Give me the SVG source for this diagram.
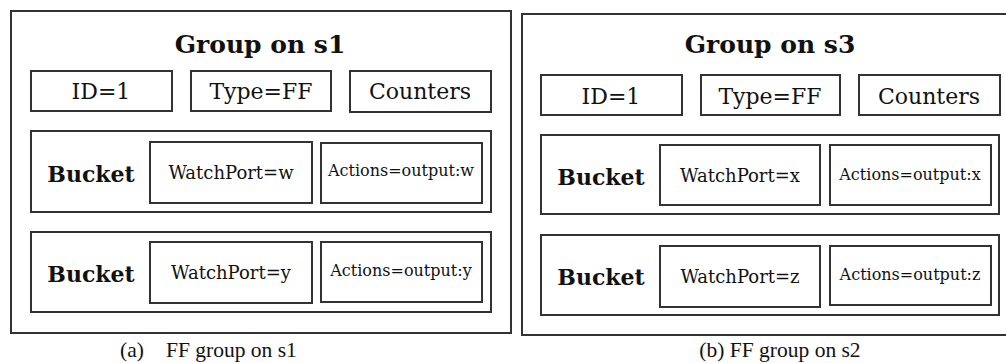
<svg xmlns="http://www.w3.org/2000/svg" width="1006" height="363" viewBox="0 0 1006 363">
<style>
.box{fill:#fff;stroke:#333;stroke-width:2}
.title{font-family:"DejaVu Serif","Liberation Serif",serif;font-weight:bold;font-size:25px;fill:#111;text-anchor:middle}
.field{font-family:"DejaVu Serif","Liberation Serif",serif;font-size:22px;fill:#111;text-anchor:middle}
.bucket{font-family:"DejaVu Serif","Liberation Serif",serif;font-weight:bold;font-size:22px;fill:#111;text-anchor:middle}
.watch{font-family:"DejaVu Serif","Liberation Serif",serif;font-size:18px;fill:#111;text-anchor:middle}
.act{font-family:"DejaVu Serif","Liberation Serif",serif;font-size:16px;fill:#111;text-anchor:middle}
.cap{font-family:"Liberation Serif",serif;font-size:21.5px;fill:#111}
</style>
<rect width="1006" height="363" fill="#fff"/>
<g id="group-s1">
  <rect class="box" x="11" y="11" width="500" height="322"/>
  <text class="title" x="260" y="53">Group on s1</text>
  <g id="s1-id"><rect class="box" x="31" y="71" width="141" height="40"/><text class="field" x="101" y="99">ID=1</text></g>
  <g id="s1-type"><rect class="box" x="191" y="71" width="140" height="40"/><text class="field" x="261" y="99">Type=FF</text></g>
  <g id="s1-counters"><rect class="box" x="350" y="71" width="141" height="41"/><text class="field" x="420" y="99">Counters</text></g>
  <g id="s1-bucket1">
    <rect class="box" x="31" y="131" width="460" height="81"/>
    <text class="bucket" x="91" y="182">Bucket</text>
    <rect class="box" x="150" y="142" width="162" height="61"/>
    <text class="watch" x="231" y="179">WatchPort=w</text>
    <rect class="box" x="321" y="143" width="161" height="60"/>
    <text class="act" x="401" y="176">Actions=output:w</text>
  </g>
  <g id="s1-bucket2">
    <rect class="box" x="31" y="232" width="460" height="80"/>
    <text class="bucket" x="91" y="282">Bucket</text>
    <rect class="box" x="150" y="242" width="162" height="61"/>
    <text class="watch" x="231" y="279">WatchPort=y</text>
    <rect class="box" x="321" y="242" width="161" height="60"/>
    <text class="act" x="401" y="276">Actions=output:y</text>
  </g>
</g>
<g id="group-s3">
  <rect class="box" x="522" y="14" width="500" height="321"/>
  <text class="title" x="770" y="53">Group on s3</text>
  <g id="s3-id"><rect class="box" x="541" y="75" width="141" height="40"/><text class="field" x="611" y="104">ID=1</text></g>
  <g id="s3-type"><rect class="box" x="701" y="75" width="139" height="40"/><text class="field" x="770" y="104">Type=FF</text></g>
  <g id="s3-counters"><rect class="box" x="859" y="75" width="141" height="40"/><text class="field" x="929" y="104">Counters</text></g>
  <g id="s3-bucket1">
    <rect class="box" x="541" y="135" width="458" height="79"/>
    <text class="bucket" x="601" y="185">Bucket</text>
    <rect class="box" x="660" y="145" width="160" height="60"/>
    <text class="watch" x="740" y="182">WatchPort=x</text>
    <rect class="box" x="830" y="145" width="161" height="60"/>
    <text class="act" x="910" y="180">Actions=output:x</text>
  </g>
  <g id="s3-bucket2">
    <rect class="box" x="541" y="235" width="458" height="80"/>
    <text class="bucket" x="601" y="285">Bucket</text>
    <rect class="box" x="660" y="246" width="160" height="61"/>
    <text class="watch" x="740" y="283">WatchPort=z</text>
    <rect class="box" x="830" y="246" width="161" height="59"/>
    <text class="act" x="910" y="280">Actions=output:z</text>
  </g>
</g>
<g id="connectors"/>
<text class="cap" x="120" y="357">(a)</text>
<text class="cap" x="166" y="357">FF group on s1</text>
<text class="cap" x="780" y="357" text-anchor="middle">(b) FF group on s2</text>
</svg>
